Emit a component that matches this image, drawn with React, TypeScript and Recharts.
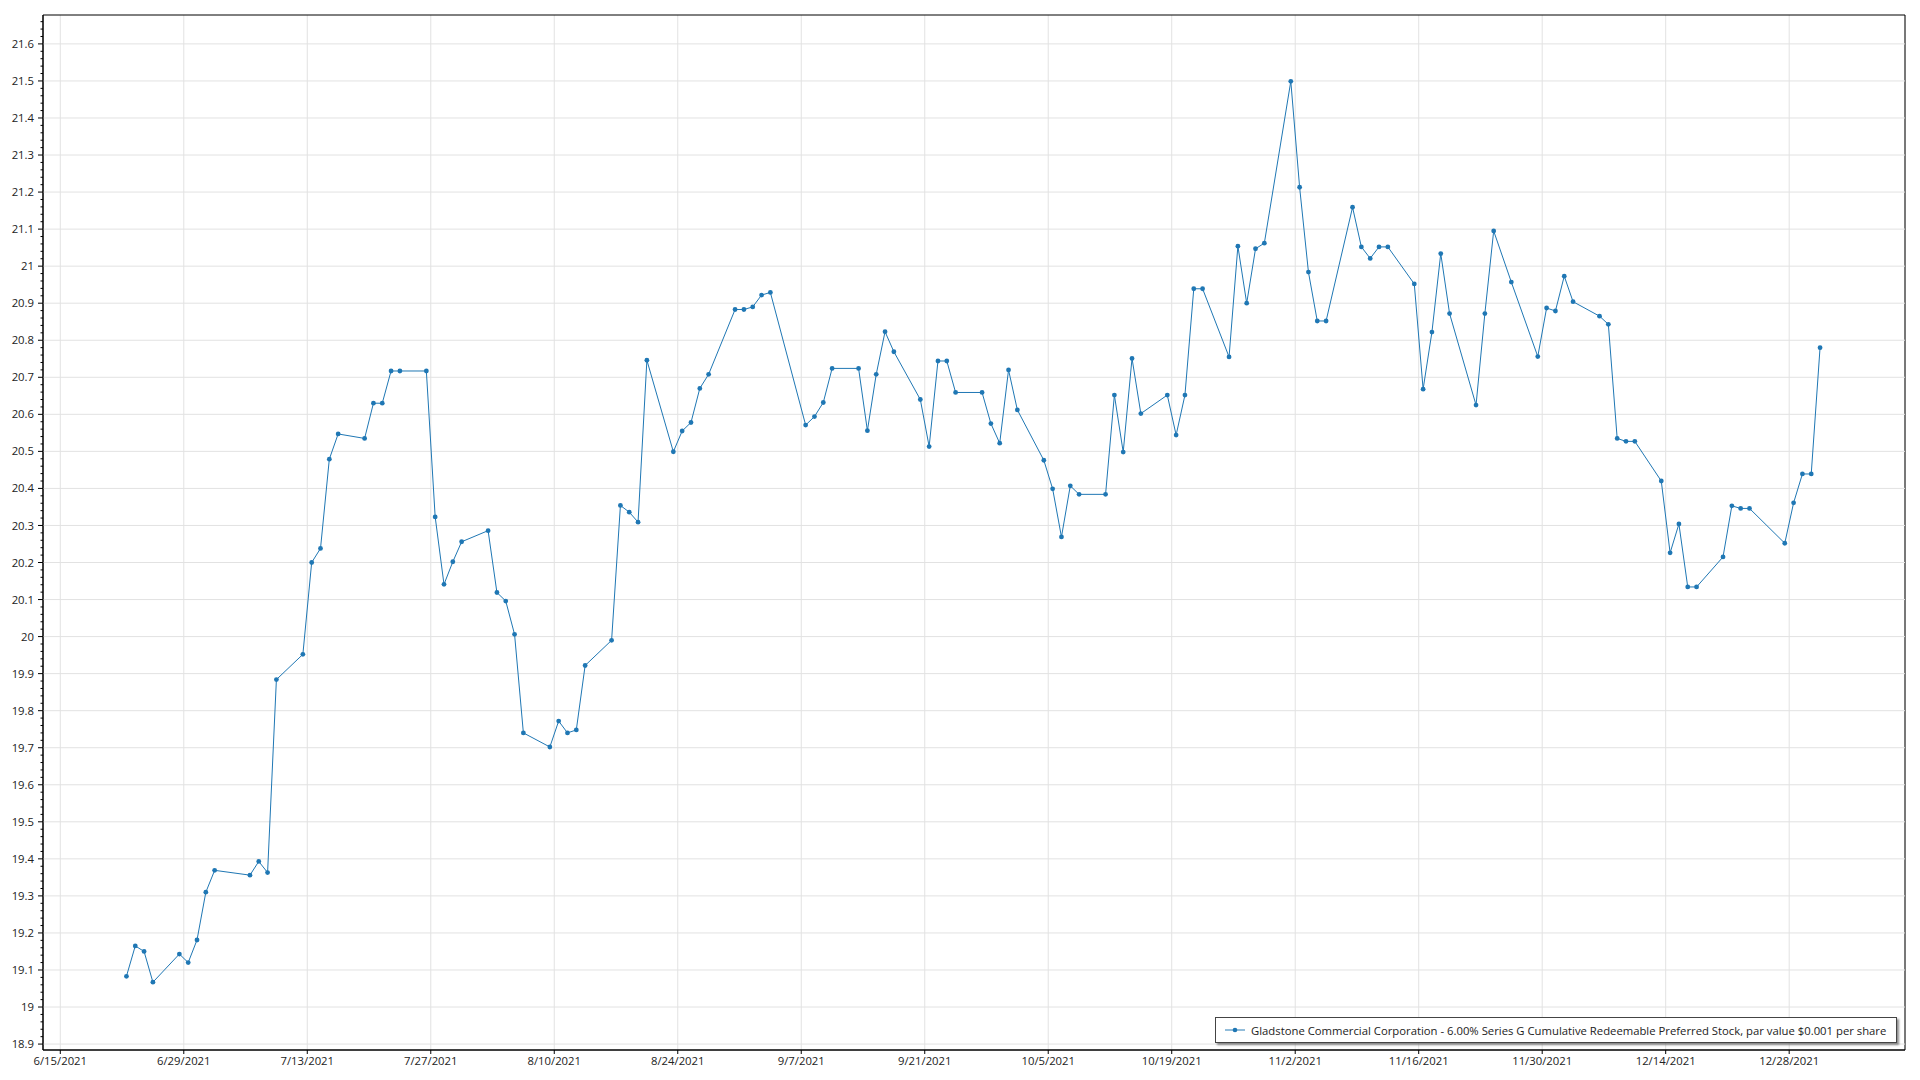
import React from 'react';
import { LineChart, Line, XAxis, YAxis, CartesianGrid, Legend, ReferenceArea, ReferenceLine } from 'recharts';

// Trading dates (2021) and closing prices
const DATES = [
  '6/22', '6/23', '6/24', '6/25', '6/28', '6/29', '6/30', '7/1', '7/2', '7/6',
  '7/7', '7/8', '7/9', '7/12', '7/13', '7/14', '7/15', '7/16', '7/19', '7/20',
  '7/21', '7/22', '7/23', '7/26', '7/27', '7/28', '7/29', '7/30', '8/2', '8/3',
  '8/4', '8/5', '8/6', '8/9', '8/10', '8/11', '8/12', '8/13', '8/16', '8/17',
  '8/18', '8/19', '8/20', '8/23', '8/24', '8/25', '8/26', '8/27', '8/30', '8/31',
  '9/1', '9/2', '9/3', '9/7', '9/8', '9/9', '9/10', '9/13', '9/14', '9/15',
  '9/16', '9/17', '9/20', '9/21', '9/22', '9/23', '9/24', '9/27', '9/28', '9/29',
  '9/30', '10/1', '10/4', '10/5', '10/6', '10/7', '10/8', '10/11', '10/12', '10/13',
  '10/14', '10/15', '10/18', '10/19', '10/20', '10/21', '10/22', '10/25', '10/26', '10/27',
  '10/28', '10/29', '11/1', '11/2', '11/3', '11/4', '11/5', '11/8', '11/9', '11/10',
  '11/11', '11/12', '11/15', '11/16', '11/17', '11/18', '11/19', '11/22', '11/23', '11/24',
  '11/26', '11/29', '11/30', '12/1', '12/2', '12/3', '12/6', '12/7', '12/8', '12/9',
  '12/10', '12/13', '12/14', '12/15', '12/16', '12/17', '12/20', '12/21', '12/22', '12/23',
  '12/27', '12/28', '12/29', '12/30', '12/31',
];

const PRICES = [
  19.083, 19.165, 19.150, 19.067, 19.143, 19.120, 19.181, 19.310, 19.369, 19.356,
  19.393, 19.363, 19.884, 19.952, 20.200, 20.238, 20.479, 20.547, 20.535, 20.630,
  20.630, 20.717, 20.717, 20.717, 20.323, 20.141, 20.202, 20.256, 20.286, 20.119,
  20.096, 20.006, 19.740, 19.702, 19.772, 19.740, 19.748, 19.922, 19.990, 20.354,
  20.336, 20.309, 20.746, 20.499, 20.555, 20.578, 20.670, 20.708, 20.883, 20.883,
  20.890, 20.922, 20.929, 20.571, 20.594, 20.632, 20.724, 20.724, 20.556, 20.708,
  20.823, 20.769, 20.640, 20.513, 20.744, 20.744, 20.659, 20.659, 20.575, 20.522,
  20.720, 20.612, 20.476, 20.399, 20.269, 20.407, 20.384, 20.384, 20.652, 20.498,
  20.751, 20.602, 20.652, 20.544, 20.652, 20.939, 20.939, 20.755, 21.054, 20.900,
  21.047, 21.062, 21.499, 21.213, 20.984, 20.852, 20.852, 21.159, 21.052, 21.021,
  21.052, 21.052, 20.952, 20.668, 20.822, 21.034, 20.872, 20.625, 20.872, 21.095,
  20.957, 20.756, 20.887, 20.879, 20.973, 20.904, 20.865, 20.843, 20.535, 20.527,
  20.527, 20.420, 20.226, 20.304, 20.134, 20.134, 20.215, 20.353, 20.346, 20.346,
  20.252, 20.361, 20.439, 20.439, 20.780,
];

const X_TICK_LABELS = [
  '6/15/2021', '6/29/2021', '7/13/2021', '7/27/2021', '8/10/2021', '8/24/2021', '9/7/2021',
  '9/21/2021', '10/5/2021', '10/19/2021', '11/2/2021', '11/16/2021', '11/30/2021',
  '12/14/2021', '12/28/2021',
];

const Y_MAJOR_TICKS = [
  18.9, 19, 19.1, 19.2, 19.3, 19.4, 19.5, 19.6, 19.7, 19.8, 19.9, 20, 20.1, 20.2,
  20.3, 20.4, 20.5, 20.6, 20.7, 20.8, 20.9, 21, 21.1, 21.2, 21.3, 21.4, 21.5, 21.6,
];

const SERIES_NAME =
  'Gladstone Commercial Corporation - 6.00% Series G Cumulative Redeemable Preferred Stock, par value $0.001 per share';

const COLOR = '#1f77b4';
const GRID = '#e2e2e2';
const FONT = '"Open Sans", "Noto Sans", sans-serif';
const FONT_SIZE = 11.3;

// axis ranges (days since 6/15/2021)
const X_MIN = -1.96;
const X_MAX = 209.13;
const Y_MIN = 18.884;
const Y_MAX = 21.678;

const DAY = 86400000;
const ORIGIN = Date.UTC(2021, 5, 15);
const dayOf = (y: number, m: number, d: number) => (Date.UTC(y, m - 1, d) - ORIGIN) / DAY;

// points are timestamped at noon
const data = DATES.map((s, i) => {
  const [m, d] = s.split('/').map(Number);
  return { t: dayOf(2021, m, d) + 0.5, price: PRICES[i] };
});

const xTicks = X_TICK_LABELS.map((l) => {
  const [m, d, y] = l.split('/').map(Number);
  return dayOf(y, m, d);
});
const xLabel = (v: number) => {
  const i = xTicks.findIndex((t) => Math.abs(t - v) < 1e-6);
  return i >= 0 ? X_TICK_LABELS[i] : '';
};

// minor ticks every 0.02 on the value axis
const yTicks: number[] = [];
for (let h = 1890; h <= 2166; h += 2) yTicks.push(h / 100);

const YTick = (props: any) => {
  const { x, y, payload } = props;
  const v = payload.value as number;
  const major = Math.round(v * 100) % 10 === 0;
  return (
    <g>
      <line x1={x - (major ? 5 : 2.5)} x2={x} y1={y} y2={y} stroke="#000" strokeWidth={1} />
      {major && (
        <text
          x={x - 9}
          y={y}
          dy="0.36em"
          textAnchor="end"
          fontSize={FONT_SIZE}
          fontFamily={FONT}
          fill="#222"
        >
          {String(Math.round(v * 10) / 10)}
        </text>
      )}
    </g>
  );
};

const LegendBox = () => (
  <div
    style={{
      boxSizing: 'border-box',
      width: 682,
      height: 26,
      border: '1px solid #444',
      background: '#fff',
      boxShadow: '2px 2px 2px rgba(0,0,0,0.45)',
      display: 'flex',
      alignItems: 'center',
      paddingLeft: 9,
      fontFamily: FONT,
      fontSize: FONT_SIZE,
      color: '#222',
      whiteSpace: 'nowrap',
    }}
  >
    <svg width={20} height={8} style={{ marginRight: 6 }}>
      <line x1={0} x2={20} y1={4} y2={4} stroke={COLOR} strokeWidth={1.6} opacity={0.6} />
      <circle cx={10} cy={4} r={2.3} fill={COLOR} />
    </svg>
    <span>{SERIES_NAME}</span>
  </div>
);

export default function App() {
  return (
    <div style={{ width: 1904, height: 1064 }}>
      <LineChart
        width={1904}
        height={1064}
        data={data}
        margin={{ top: 7, right: 7, left: 0, bottom: 0 }}
      >
        <CartesianGrid stroke={GRID} strokeWidth={1} horizontal={false} />
        {Y_MAJOR_TICKS.map((v) => (
          <ReferenceLine key={v} y={v} stroke={GRID} strokeWidth={1} />
        ))}
        <XAxis
          dataKey="t"
          type="number"
          domain={[X_MIN, X_MAX]}
          ticks={xTicks}
          interval={0}
          tickFormatter={xLabel}
          height={22}
          tickSize={4}
          tickMargin={3}
          axisLine={{ stroke: '#000', strokeWidth: 1 }}
          tickLine={{ stroke: '#000' }}
          tick={{ fontSize: FONT_SIZE, fontFamily: FONT, fill: '#222' }}
          allowDataOverflow
        />
        <YAxis
          type="number"
          domain={[Y_MIN, Y_MAX]}
          ticks={yTicks}
          interval={0}
          width={35}
          tickSize={0}
          tickMargin={0}
          tickLine={false}
          axisLine={{ stroke: '#000', strokeWidth: 1 }}
          tick={<YTick />}
          allowDataOverflow
        />
        <ReferenceArea
          x1={X_MIN}
          x2={X_MAX}
          y1={Y_MIN}
          y2={Y_MAX}
          fill="none"
          stroke="#000"
          strokeWidth={1}
          ifOverflow="visible"
        />
        <Legend
          layout="horizontal"
          verticalAlign="middle"
          align="center"
          content={() => <LegendBox />}
          wrapperStyle={{ left: 1207, top: 1009, width: 682, height: 26 }}
        />
        <Line
          type="linear"
          dataKey="price"
          name={SERIES_NAME}
          stroke={COLOR}
          strokeWidth={1}
          dot={{ r: 2.4, fill: COLOR, stroke: COLOR, strokeWidth: 0 }}
          activeDot={false}
          isAnimationActive={false}
        />
      </LineChart>
    </div>
  );
}
